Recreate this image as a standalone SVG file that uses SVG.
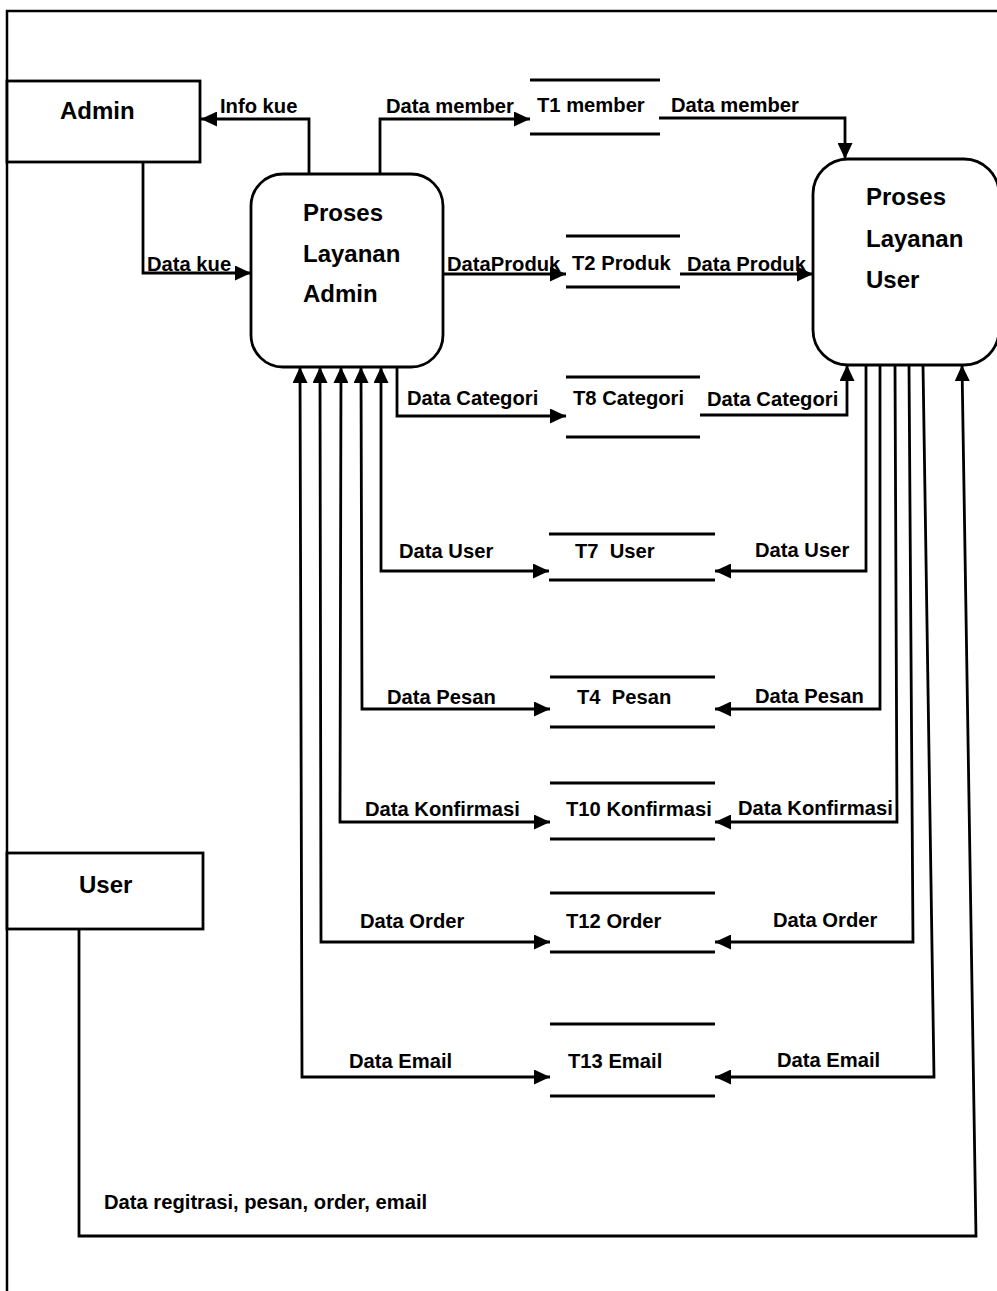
<svg xmlns="http://www.w3.org/2000/svg" width="997" height="1291" viewBox="0 0 997 1291">
<style>
.bg{fill:#fff}
.box{fill:#fff;stroke:#000;stroke-width:2.8}
.ln{fill:none;stroke:#000;stroke-width:2.5}
.st{stroke:#000;stroke-width:3}
.flow{fill:none;stroke:#000;stroke-width:2.8;marker-end:url(#ah)}
.both{marker-start:url(#ah)}
text{font-family:"Liberation Sans",Arial,sans-serif;font-weight:bold;fill:#000}
.lbl{font-size:20.2px}
.big{font-size:24px}
</style>
<defs>
<marker id="ah" markerUnits="userSpaceOnUse" markerWidth="17" markerHeight="15" refX="16" refY="7.5" orient="auto-start-reverse">
<path d="M0,0 L16,7.5 L0,15 z" fill="#000"/>
</marker>
</defs>
<rect class="bg" x="0" y="0" width="997" height="1291"/>
<g id="frame">
<path class="ln" d="M7 1291 V11 H997"/>
</g>
<g id="connectors">
<path class="flow" d="M309 174 V119 H201"/>
<path class="flow" d="M380 174 V119 H530"/>
<path class="flow" d="M143 162 V273 H251"/>
<path class="flow" d="M443 274 H566"/>
<path class="flow" d="M680 274 H813"/>
<path class="flow" d="M659 118 H845 V159"/>
<path class="flow" d="M397 367 V416 H566"/>
<path class="flow" d="M700 415 H847 V365"/>
<path class="flow both" d="M381 367 V571 H549"/>
<path class="flow both" d="M361 367 L362 709 H550"/>
<path class="flow both" d="M341 367 L340 822 H550"/>
<path class="flow both" d="M320 367 L321 942 H550"/>
<path class="flow both" d="M300 367 L302 1077 H550"/>
<path class="flow" d="M866 365 V571 H715"/>
<path class="flow" d="M880 365 V709 H715"/>
<path class="flow" d="M895 365 L897 822 H715"/>
<path class="flow" d="M909 365 L913 942 H715"/>
<path class="flow" d="M923 365 L934 1077 H715"/>
<path class="flow" d="M79 929 V1236 H976 L962 365"/>
</g>
<g id="admin">
<rect class="box" x="7" y="81" width="193" height="81"/>
<text class="big" x="60" y="119">Admin</text>
</g>
<g id="user">
<rect class="box" x="7" y="853" width="196" height="76"/>
<text class="big" x="79" y="893">User</text>
</g>
<g id="proses-admin">
<rect class="box" x="251" y="174" width="192" height="193" rx="32"/>
<text class="big" x="303" y="221">Proses</text>
<text class="big" x="303" y="262">Layanan</text>
<text class="big" x="303" y="302">Admin</text>
</g>
<g id="proses-user">
<rect class="box" x="813" y="159" width="186" height="206" rx="35"/>
<text class="big" x="866" y="205">Proses</text>
<text class="big" x="866" y="247">Layanan</text>
<text class="big" x="866" y="288">User</text>
</g>
<g id="t1">
<line class="st" x1="530" y1="80" x2="660" y2="80"/>
<line class="st" x1="530" y1="134" x2="660" y2="134"/>
<text class="lbl" x="537" y="112">T1 member</text>
</g>
<g id="t2">
<line class="st" x1="566" y1="236" x2="680" y2="236"/>
<line class="st" x1="566" y1="287" x2="680" y2="287"/>
<text class="lbl" x="572" y="270">T2 Produk</text>
</g>
<g id="t8">
<line class="st" x1="566" y1="377" x2="700" y2="377"/>
<line class="st" x1="566" y1="437" x2="700" y2="437"/>
<text class="lbl" x="573" y="405">T8 Categori</text>
</g>
<g id="t7">
<line class="st" x1="549" y1="534" x2="715" y2="534"/>
<line class="st" x1="549" y1="580" x2="715" y2="580"/>
<text class="lbl" x="575" y="558" xml:space="preserve">T7  User</text>
</g>
<g id="t4">
<line class="st" x1="550" y1="677" x2="715" y2="677"/>
<line class="st" x1="550" y1="727" x2="715" y2="727"/>
<text class="lbl" x="577" y="704" xml:space="preserve">T4  Pesan</text>
</g>
<g id="t10">
<line class="st" x1="550" y1="783" x2="715" y2="783"/>
<line class="st" x1="550" y1="839" x2="715" y2="839"/>
<text class="lbl" x="566" y="816">T10 Konfirmasi</text>
</g>
<g id="t12">
<line class="st" x1="550" y1="893" x2="715" y2="893"/>
<line class="st" x1="550" y1="952" x2="715" y2="952"/>
<text class="lbl" x="566" y="928">T12 Order</text>
</g>
<g id="t13">
<line class="st" x1="550" y1="1024" x2="715" y2="1024"/>
<line class="st" x1="550" y1="1096" x2="715" y2="1096"/>
<text class="lbl" x="568" y="1068">T13 Email</text>
</g>
<g id="labels">
<text class="lbl" x="220" y="113">Info kue</text>
<text class="lbl" x="386" y="113">Data member</text>
<text class="lbl" x="671" y="112">Data member</text>
<text class="lbl" x="147" y="271">Data kue</text>
<text class="lbl" x="447" y="271">DataProduk</text>
<text class="lbl" x="687" y="271">Data Produk</text>
<text class="lbl" x="407" y="405">Data Categori</text>
<text class="lbl" x="707" y="406">Data Categori</text>
<text class="lbl" x="399" y="558">Data User</text>
<text class="lbl" x="755" y="557">Data User</text>
<text class="lbl" x="387" y="704">Data Pesan</text>
<text class="lbl" x="755" y="703">Data Pesan</text>
<text class="lbl" x="365" y="816">Data Konfirmasi</text>
<text class="lbl" x="738" y="815">Data Konfirmasi</text>
<text class="lbl" x="360" y="928">Data Order</text>
<text class="lbl" x="773" y="927">Data Order</text>
<text class="lbl" x="349" y="1068">Data Email</text>
<text class="lbl" x="777" y="1067">Data Email</text>
<text class="lbl" x="104" y="1209">Data regitrasi, pesan, order, email</text>
</g>
</svg>
